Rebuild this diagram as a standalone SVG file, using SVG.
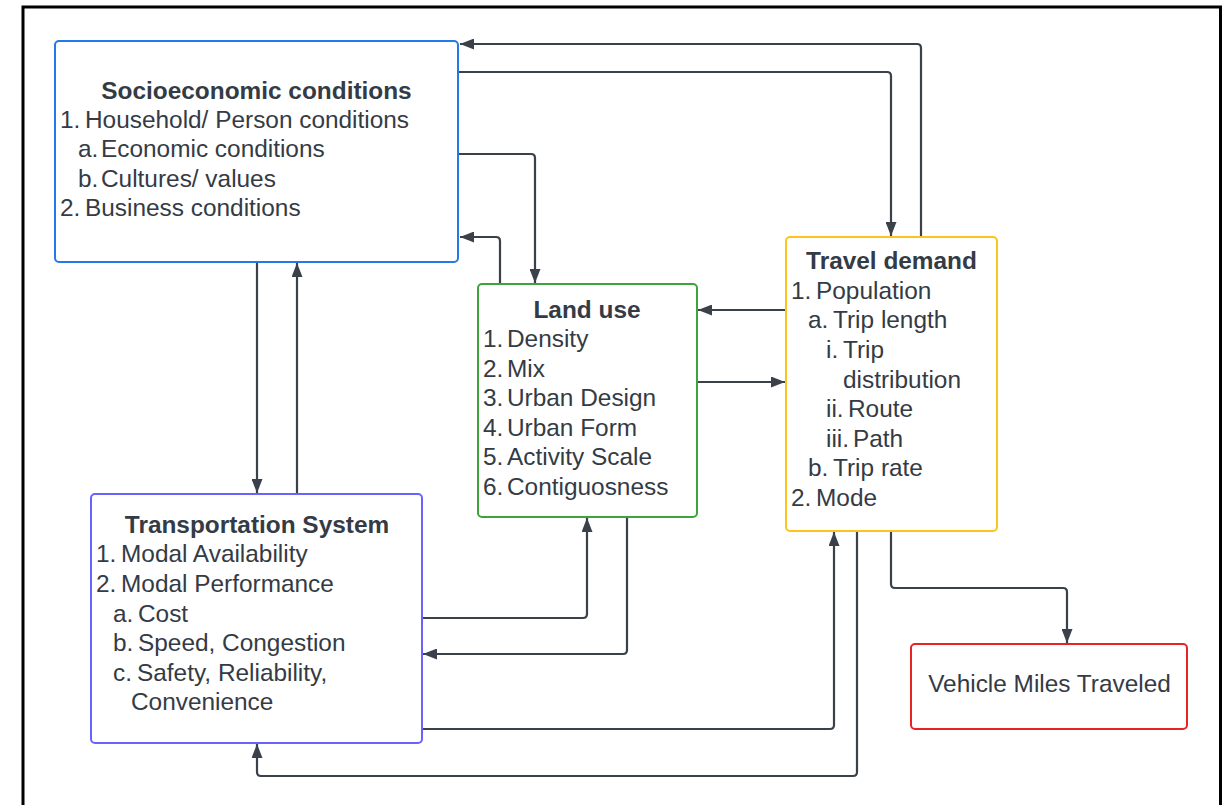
<svg xmlns="http://www.w3.org/2000/svg" width="1231" height="805" viewBox="0 0 1231 805">
  <style>
    .box { fill: #ffffff; stroke-width: 2; }
    .t { font-family: "Liberation Sans", Arial, sans-serif; font-size: 24.4px; fill: #343b45; }
    .h { font-weight: bold; text-anchor: middle; }
    .c { text-anchor: middle; }
    .link { fill: none; stroke: #3a414a; stroke-width: 2.2; marker-end: url(#arrow); }
  </style>
  <defs>
    <marker id="arrow" viewBox="0 0 14 11" markerWidth="14" markerHeight="11" refX="14" refY="5.5" orient="auto" markerUnits="userSpaceOnUse">
      <path d="M0,0 L14,5.5 L0,11 Z" fill="#3a414a"/>
    </marker>
  </defs>

  <rect x="0" y="0" width="1231" height="805" fill="#ffffff"/>
  <!-- outer frame -->
  <rect x="23" y="7" width="1197.5" height="900" fill="none" stroke="#000000" stroke-width="3"/>

  <g id="connectors">
    <path class="link" d="M921,237 V48 Q921,44 917,44 H460"/>
    <path class="link" d="M459,72 H887 Q891,72 891,76 V236"/>
    <path class="link" d="M459,154 H531 Q535,154 535,158 V283"/>
    <path class="link" d="M500,284 V241 Q500,237 496,237 H460"/>
    <path class="link" d="M786,310 H698"/>
    <path class="link" d="M697,382 H785"/>
    <path class="link" d="M257,262 V493"/>
    <path class="link" d="M297,494 V263"/>
    <path class="link" d="M422,618 H583 Q587,618 587,614 V518"/>
    <path class="link" d="M627,517 V650 Q627,654 623,654 H423"/>
    <path class="link" d="M422,729 H830 Q834,729 834,725 V532"/>
    <path class="link" d="M857,531 V772 Q857,776 853,776 H261 Q257,776 257,772 V744"/>
    <path class="link" d="M891,531 V584 Q891,588 895,588 H1063 Q1067,588 1067,592 V643"/>
  </g>

  <g id="socioeconomic">
    <rect class="box" x="55" y="41" width="403" height="221" rx="4" stroke="#2479e8"/>
    <text class="t h" x="256.5" y="99">Socioeconomic conditions</text>
    <text class="t" y="128"><tspan x="60">1.</tspan><tspan x="85">Household/ Person conditions</tspan></text>
    <text class="t" y="157"><tspan x="78">a.</tspan><tspan x="101">Economic conditions</tspan></text>
    <text class="t" y="187"><tspan x="78">b.</tspan><tspan x="101">Cultures/ values</tspan></text>
    <text class="t" y="216"><tspan x="60">2.</tspan><tspan x="85">Business conditions</tspan></text>
  </g>

  <g id="land-use">
    <rect class="box" x="478" y="284" width="219" height="233" rx="4" stroke="#3fa33b"/>
    <text class="t h" x="587" y="318">Land use</text>
    <text class="t" y="347"><tspan x="483">1.</tspan><tspan x="507">Density</tspan></text>
    <text class="t" y="377"><tspan x="483">2.</tspan><tspan x="507">Mix</tspan></text>
    <text class="t" y="406"><tspan x="483">3.</tspan><tspan x="507">Urban Design</tspan></text>
    <text class="t" y="436"><tspan x="483">4.</tspan><tspan x="507">Urban Form</tspan></text>
    <text class="t" y="465"><tspan x="483">5.</tspan><tspan x="507">Activity Scale</tspan></text>
    <text class="t" y="495"><tspan x="483">6.</tspan><tspan x="507">Contiguosness</tspan></text>
  </g>

  <g id="travel-demand">
    <rect class="box" x="786" y="237" width="211" height="294" rx="4" stroke="#fdc51c"/>
    <text class="t h" x="891.5" y="269">Travel demand</text>
    <text class="t" y="299"><tspan x="791">1.</tspan><tspan x="816">Population</tspan></text>
    <text class="t" y="328"><tspan x="808">a.</tspan><tspan x="833">Trip length</tspan></text>
    <text class="t" y="358"><tspan x="826">i.</tspan><tspan x="843">Trip</tspan></text>
    <text class="t" y="388"><tspan x="843">distribution</tspan></text>
    <text class="t" y="417"><tspan x="826">ii.</tspan><tspan x="848">Route</tspan></text>
    <text class="t" y="447"><tspan x="826">iii.</tspan><tspan x="853">Path</tspan></text>
    <text class="t" y="476"><tspan x="808">b.</tspan><tspan x="833">Trip rate</tspan></text>
    <text class="t" y="506"><tspan x="791">2.</tspan><tspan x="816">Mode</tspan></text>
  </g>

  <g id="transportation-system">
    <rect class="box" x="91" y="494" width="331" height="249" rx="4" stroke="#6a62ff"/>
    <text class="t h" x="257" y="533">Transportation System</text>
    <text class="t" y="562"><tspan x="96">1.</tspan><tspan x="121">Modal Availability</tspan></text>
    <text class="t" y="592"><tspan x="96">2.</tspan><tspan x="121">Modal Performance</tspan></text>
    <text class="t" y="622"><tspan x="113">a.</tspan><tspan x="138">Cost</tspan></text>
    <text class="t" y="651"><tspan x="113">b.</tspan><tspan x="138">Speed, Congestion</tspan></text>
    <text class="t" y="681"><tspan x="113">c.</tspan><tspan x="137">Safety, Reliability,</tspan></text>
    <text class="t" y="710"><tspan x="131">Convenience</tspan></text>
  </g>

  <g id="vehicle-miles-traveled">
    <rect class="box" x="911" y="644" width="276" height="85" rx="4" stroke="#e82323"/>
    <text class="t c" x="1049.5" y="692">Vehicle Miles Traveled</text>
  </g>
</svg>
